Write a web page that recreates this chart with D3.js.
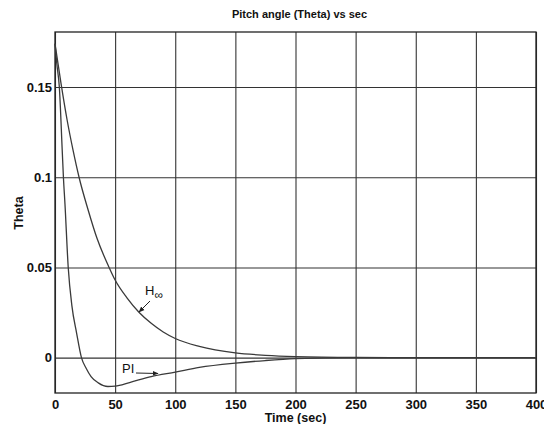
<!DOCTYPE html>
<html lang="en">
<head>
<meta charset="UTF-8">
<title>Pitch angle</title>
<script src="https://cdn.jsdelivr.net/npm/d3@7"></script>
<style>
  body { margin: 0; background: #fff; }
  text { font-family: "Liberation Sans", Arial, sans-serif; fill: #111; }
</style>
</head>
<body>
<div id="chart"></div>
<script>
// data
const xTicks = [0, 50, 100, 150, 200, 250, 300, 350, 400];
const yTicks = [0, 0.05, 0.1, 0.15];
const yTickLabels = ["0", "0.05", "0.1", "0.15"];

const hinfTime  = [0, 5, 10, 15, 20, 27.5, 35, 45, 50, 60, 70, 80, 90, 100, 120, 150, 175, 200, 250, 300, 400];
const hinfTheta = [0.174, 0.152, 0.132, 0.115, 0.100, 0.082, 0.066, 0.050, 0.043, 0.033, 0.025, 0.019, 0.0142, 0.0106, 0.0062, 0.0026, 0.0013, 0.0006, 0.0001, 0, 0];

const piTime  = [0, 1.5, 3.6, 6, 7, 8.3, 11, 14, 18, 22, 26, 30, 36, 44, 50, 62, 80, 100, 120, 150, 175, 200, 250, 300, 400];
const piTheta = [0.174, 0.163, 0.150, 0.115, 0.100, 0.085, 0.050, 0.029, 0.0135, 0, -0.006, -0.0105, -0.014, -0.016, -0.0158, -0.0138, -0.0105, -0.008, -0.0054, -0.003, -0.0016, -0.0006, 0, 0, 0];

const margin = {top: 32, right: 8, bottom: 31, left: 55},
    width = 544 - margin.left - margin.right,
    height = 424 - margin.top - margin.bottom;

const svg = d3.select("#chart")
  .append("svg")
    .attr("width", 544)
    .attr("height", 424)
  .append("g")
    .attr("transform", `translate(${margin.left},${margin.top})`);

const x = d3.scaleLinear().domain([0, 400]).range([0, width]);
const y = d3.scaleLinear().domain([-0.0196, 0.1805]).range([height, 0]);

// grid
svg.append("g")
  .attr("transform", `translate(0,${height})`)
  .call(d3.axisBottom(x).tickValues(xTicks).tickSize(-height).tickFormat(""))
  .call(g => g.select(".domain").remove())
  .selectAll("line").attr("stroke", "#333").attr("stroke-width", 1.1);
svg.append("g")
  .call(d3.axisLeft(y).tickValues(yTicks).tickSize(-width).tickFormat(""))
  .call(g => g.select(".domain").remove())
  .selectAll("line").attr("stroke", "#333").attr("stroke-width", 1.1);

// frame
svg.append("rect")
  .attr("width", width).attr("height", height)
  .attr("fill", "none").attr("stroke", "#222").attr("stroke-width", 1.3);

// tick labels
const xa = svg.append("g")
  .attr("transform", `translate(0,${height})`)
  .call(d3.axisBottom(x).tickValues(xTicks).tickSize(0).tickPadding(7));
xa.select(".domain").remove();
xa.selectAll("text").attr("font-size", "13px").attr("font-weight", "bold").style("font-family", "Liberation Sans, Arial, sans-serif");

const ya = svg.append("g")
  .call(d3.axisLeft(y).tickValues(yTicks).tickSize(0).tickPadding(3)
    .tickFormat((d, i) => yTickLabels[i]));
ya.select(".domain").remove();
ya.selectAll("text").attr("font-size", "13px").attr("font-weight", "bold").style("font-family", "Liberation Sans, Arial, sans-serif");

// curves
const line = d3.line().curve(d3.curveMonotoneX);
svg.append("path")
  .attr("d", line(hinfTime.map((t, i) => [x(t), y(hinfTheta[i])])))
  .attr("fill", "none").attr("stroke", "#3a3a3a").attr("stroke-width", 1.3);
svg.append("path")
  .attr("d", line(piTime.map((t, i) => [x(t), y(piTheta[i])])))
  .attr("fill", "none").attr("stroke", "#3a3a3a").attr("stroke-width", 1.3);

// annotations
const defs = svg.append("defs");
defs.append("marker")
  .attr("id", "arr").attr("viewBox", "0 0 10 10")
  .attr("refX", 9).attr("refY", 5)
  .attr("markerWidth", 6).attr("markerHeight", 6)
  .attr("orient", "auto")
  .append("path").attr("d", "M0,1L10,5L0,9z").attr("fill", "#222");

const hlab = svg.append("text")
  .attr("x", 90).attr("y", 263)
  .attr("font-size", "13px");
hlab.append("tspan").text("H");
hlab.append("tspan").attr("dy", 4).attr("font-size", "12px").text("\u221e");
svg.append("line")
  .attr("x1", 95).attr("y1", 269).attr("x2", 84).attr("y2", 280)
  .attr("stroke", "#222").attr("stroke-width", 1).attr("marker-end", "url(#arr)");

svg.append("text")
  .attr("x", 67).attr("y", 341)
  .attr("font-size", "13px").text("PI");
svg.append("line")
  .attr("x1", 81).attr("y1", 341).attr("x2", 103).attr("y2", 341.5)
  .attr("stroke", "#222").attr("stroke-width", 1).attr("marker-end", "url(#arr)");

// titles
svg.append("text")
  .attr("x", width / 2 + 4).attr("y", -14)
  .attr("text-anchor", "middle")
  .attr("font-size", "11px").attr("font-weight", "bold")
  .text("Pitch angle (Theta) vs sec");

svg.append("text")
  .attr("x", width / 2).attr("y", height + 29)
  .attr("text-anchor", "middle")
  .attr("font-size", "12.5px").attr("font-weight", "bold")
  .text("Time (sec)");

svg.append("text")
  .attr("transform", "rotate(-90)")
  .attr("x", -(213 - margin.top)).attr("y", 19 - margin.left + 4)
  .attr("text-anchor", "middle")
  .attr("font-size", "12.5px").attr("font-weight", "bold")
  .text("Theta");
</script>
</body>
</html>
